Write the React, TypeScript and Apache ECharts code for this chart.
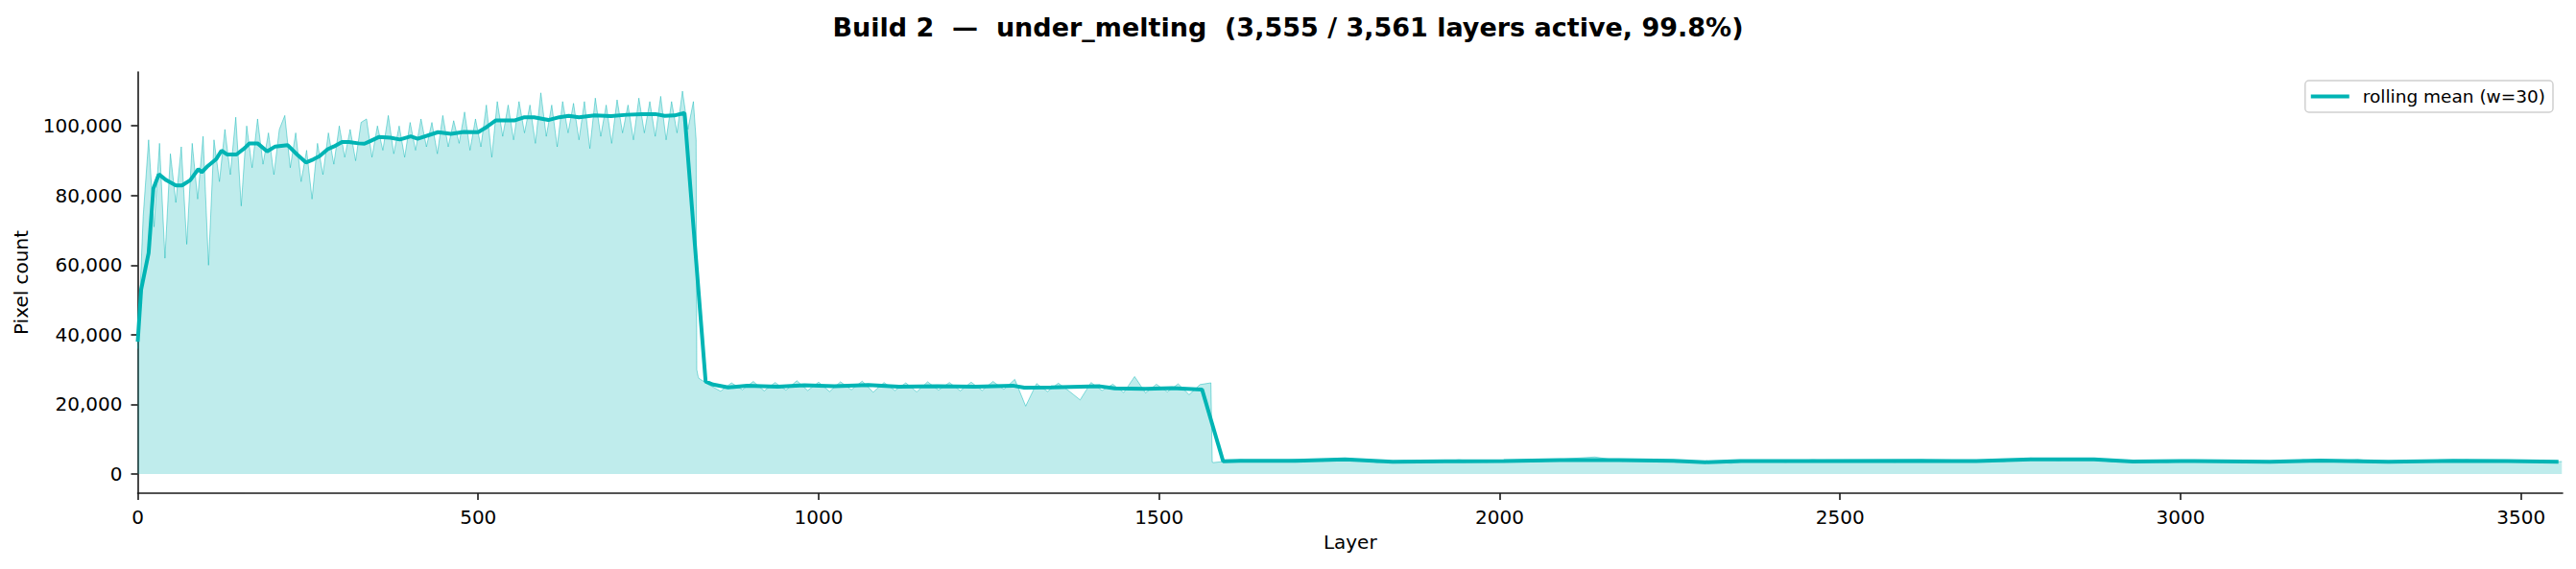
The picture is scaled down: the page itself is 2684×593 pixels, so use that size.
import React, { useEffect, useRef } from "react";
import * as echarts from "echarts";

const TITLE = "Build 2  \u2014  under_melting  (3,555 / 3,561 layers active, 99.8%)";
const X_LABEL = "Layer";
const Y_LABEL = "Pixel count";
const LEGEND_MEAN = "rolling mean (w=30)";
const X_TICKS = [0, 500, 1000, 1500, 2000, 2500, 3000, 3500];
const Y_TICKS = [0, 20000, 40000, 60000, 80000, 100000];
const X_MIN = 0;
const X_MAX = 3561;
const Y_MIN = -5500;
const Y_MAX = 115500;

// raw pixel counts, high phase: layers 0, 8, 16, ... 816
const HIGH_START = 0;
const HIGH_STEP = 8;
const highCounts = [
  36000, 74000, 96000, 71000, 95000, 62000, 92000, 78000, 94000, 66000,
  95000, 79000, 97000, 60000, 96000, 84000, 99000, 86000, 102500, 77000,
  100000, 88000, 102000, 89000, 98000, 86000, 99000, 103000, 88000, 98000,
  84000, 93000, 79000, 95000, 86000, 98000, 89000, 100000, 91000, 99000,
  90000, 101000, 102000, 91000, 100000, 93000, 103000, 92000, 100000, 91000,
  101000, 93000, 102000, 94000, 101000, 92000, 103000, 94000, 101500, 95000,
  104000, 93000, 102000, 94000, 106000, 91000, 107000, 97000, 106000, 96000,
  107000, 98000, 106000, 95000, 109500, 97000, 106000, 94000, 107000, 98000,
  106500, 96000, 107000, 93500, 108000, 97000, 106000, 95000, 107500, 98000,
  106000, 96000, 108000, 98000, 107000, 97000, 108500, 96000, 107000, 98000,
  110000, 99000, 107000,
];
const drop1Layers = [820, 821, 823];
const drop1Counts = [96000, 30000, 28000];

// raw pixel counts, middle phase: layers 824, 840, ... 1576
const MID_START = 824;
const MID_STEP = 16;
const midCounts = [
  27500, 25500, 23800, 26200, 24200, 26600, 23900, 26300, 24100, 26800,
  24000, 26400, 23700, 26500, 24200, 26700, 23500, 26300, 24000, 26200,
  23600, 26500, 24100, 26300, 23900, 26400, 24000, 26600, 24300, 27200,
  19500, 26000, 23700, 26100, 23800, 21300, 26300, 24000, 25800, 23400,
  28000, 23300, 25800, 23600, 25900, 22800, 25700, 26200,
];
const drop2Layers = [1578];
const drop2Counts = [3400];

// raw pixel counts, low phase: layers 1580, 1620, ... 3540, then 3560
const LOW_START = 1580;
const LOW_STEP = 40;
const lowCounts = [
  3300, 4100, 3500, 4200, 3700, 4500, 3300, 3900, 3300, 4100,
  3400, 4000, 3600, 4400, 4900, 3700, 4200, 3400, 3600, 3100,
  4000, 3400, 4100, 3500, 4000, 3400, 4100, 3500, 4000, 3600,
  4600, 3900, 4500, 3500, 3900, 3300, 4000, 3400, 3800, 3200,
  4100, 3600, 4200, 3300, 3900, 3400, 4100, 3500, 4000, 3400,
];
const tailLayers = [3560];
const tailCounts = [3600];

// rolling mean (w=30)
const meanLayers = [
  0, 5, 16, 23, 31, 42, 56, 65, 77, 89, 94, 103, 115, 123, 131, 145, 157, 164,
  176, 190, 202, 220, 234, 247, 258, 267, 279, 288, 300, 310, 324, 333, 342,
  354, 371, 385, 401, 411, 441, 460, 479, 500, 511, 526, 554, 568, 582, 603,
  619, 633, 648, 671, 695, 718, 741, 760, 774, 788, 803, 834, 845, 867, 895,
  940, 979, 1023, 1073, 1118, 1174, 1229, 1285, 1302, 1341, 1413, 1435, 1480,
  1519, 1563, 1594, 1619, 1700, 1773, 1843, 1920, 2006, 2088, 2175, 2255,
  2302, 2353, 2450, 2615, 2700, 2780, 2873, 2930, 3000, 3131, 3205, 3305,
  3400, 3480, 3555,
];
const meanCounts = [
  38000, 53000, 63500, 82000, 86100, 84400, 82900, 82900, 84400, 87600, 86700,
  88500, 90400, 92900, 91800, 91800, 93600, 95000, 95000, 92700, 94100, 94500,
  91800, 89500, 90400, 91300, 93300, 94100, 95400, 95400, 95000, 94900, 95700,
  96800, 96600, 96100, 97000, 96300, 98200, 97700, 98300, 98200, 99500, 101600,
  101600, 102500, 102500, 101700, 102500, 102900, 102500, 103000, 102800,
  103200, 103400, 103400, 102900, 103000, 103700, 26600, 25700, 24900, 25400,
  25100, 25500, 25200, 25600, 25100, 25200, 25100, 25400, 24800, 24900, 25200,
  24600, 24500, 24700, 24300, 3660, 3800, 3800, 4200, 3500, 3650, 3700, 4000,
  4000, 3800, 3400, 3700, 3750, 3800, 3700, 4200, 4200, 3600, 3750, 3500,
  3900, 3500, 3800, 3750, 3500,
];

const TEAL = "#00b4b4";
const FONT = "DejaVu Sans";

function stepped(start: number, step: number, vals: number[]): number[][] {
  return vals.map((v, i) => [start + i * step, v]);
}
function paired(ls: number[], vs: number[]): number[][] {
  return ls.map((l, i) => [l, vs[i]]);
}

export default function App() {
  const ref = useRef<HTMLDivElement>(null);
  useEffect(() => {
    if (!ref.current) return;
    const chart = echarts.init(ref.current, undefined, { renderer: "svg" });
    const raw = [
      ...stepped(HIGH_START, HIGH_STEP, highCounts),
      ...paired(drop1Layers, drop1Counts),
      ...stepped(MID_START, MID_STEP, midCounts),
      ...paired(drop2Layers, drop2Counts),
      ...stepped(LOW_START, LOW_STEP, lowCounts),
      ...paired(tailLayers, tailCounts),
    ];
    const mean = paired(meanLayers, meanCounts);
    const axisLineStyle = { color: "#1a1a1a", width: 1.6 };
    chart.setOption({
      animation: false,
      backgroundColor: "#ffffff",
      textStyle: { fontFamily: FONT },
      title: {
        text: TITLE,
        left: "center",
        top: 10,
        textStyle: { fontFamily: FONT, fontWeight: "bold", fontSize: 27, color: "#000" },
      },
      legend: {
        right: 24,
        top: 84,
        orient: "vertical",
        data: [{ name: LEGEND_MEAN, icon: "rect" }],
        itemWidth: 40,
        itemHeight: 4,
        padding: [7, 8, 7, 6],
        borderColor: "#d0d0d0",
        borderWidth: 1.5,
        borderRadius: 4,
        backgroundColor: "rgba(255,255,255,0.8)",
        textStyle: { fontFamily: FONT, fontSize: 18.5, color: "#000", padding: [0, 0, 0, 9] },
      },
      grid: { left: 143.5, right: 14, top: 75, bottom: 79, containLabel: false },
      xAxis: {
        type: "value",
        min: X_MIN,
        max: X_MAX,
        name: X_LABEL,
        nameLocation: "middle",
        nameGap: 41,
        nameTextStyle: { fontFamily: FONT, fontSize: 20, color: "#000" },
        axisLine: { show: true, onZero: false, lineStyle: axisLineStyle },
        axisTick: { show: true, length: 7, lineStyle: axisLineStyle, customValues: X_TICKS },
        axisLabel: {
          fontFamily: FONT,
          fontSize: 20,
          color: "#000",
          margin: 15,
          customValues: X_TICKS,
          formatter: (v: number) => String(v),
        },
        splitLine: { show: false },
      },
      yAxis: {
        type: "value",
        min: Y_MIN,
        max: Y_MAX,
        name: Y_LABEL,
        nameLocation: "middle",
        nameGap: 112,
        nameTextStyle: { fontFamily: FONT, fontSize: 20, color: "#000" },
        axisLine: { show: true, onZero: false, lineStyle: axisLineStyle },
        axisTick: { show: true, length: 7, lineStyle: axisLineStyle, customValues: Y_TICKS },
        axisLabel: {
          fontFamily: FONT,
          fontSize: 20,
          color: "#000",
          margin: 16,
          customValues: Y_TICKS,
          formatter: (v: number) => v.toLocaleString("en-US"),
        },
        splitLine: { show: false },
      },
      series: [
        {
          name: "raw",
          type: "line",
          data: raw,
          symbol: "none",
          silent: true,
          lineStyle: { color: "rgba(0,180,180,0.45)", width: 1 },
          areaStyle: { color: "rgba(0,180,180,0.25)", opacity: 1 },
          z: 1,
        },
        {
          name: LEGEND_MEAN,
          type: "line",
          data: mean,
          symbol: "none",
          color: TEAL,
          lineStyle: { color: TEAL, width: 4 },
          z: 3,
        },
      ],
    });
    return () => chart.dispose();
  }, []);
  return (
    <div
      ref={ref}
      style={{ position: "fixed", left: 0, top: 0, width: 2684, height: 593, background: "#fff" }}
    />
  );
}
